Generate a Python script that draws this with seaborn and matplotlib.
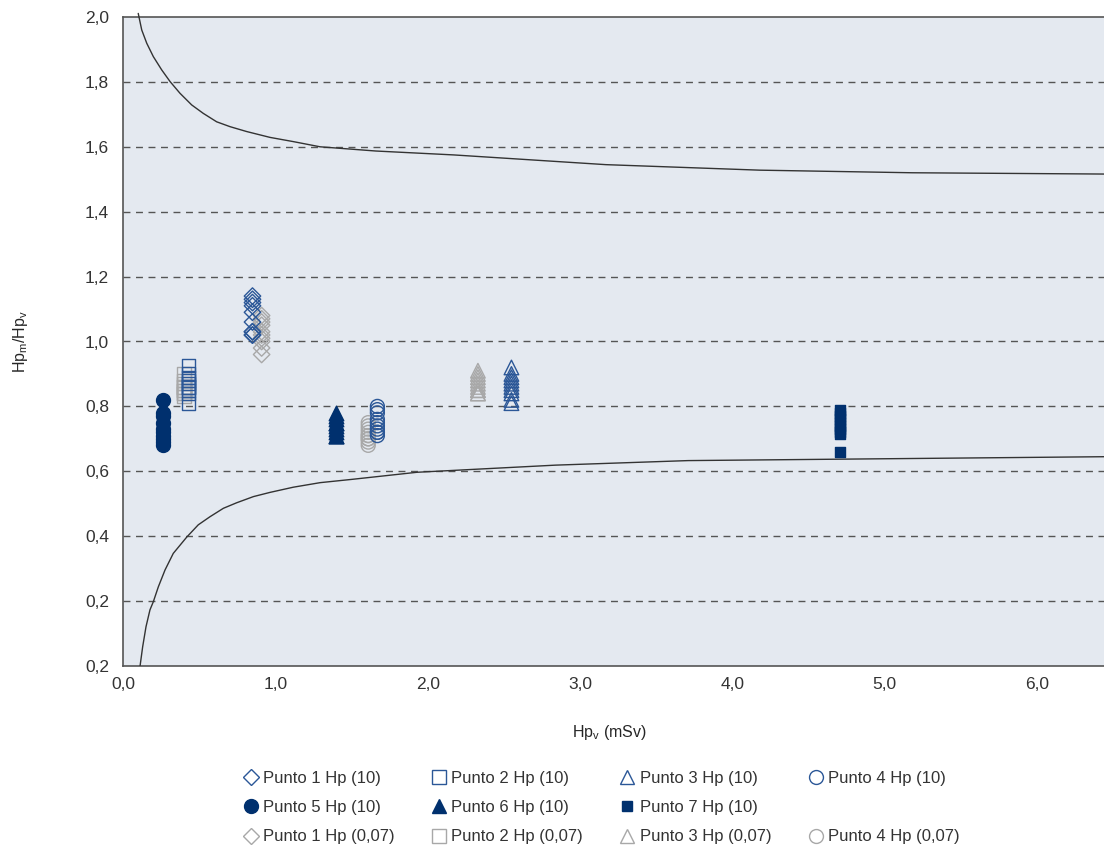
import numpy as np
import pandas as pd
import matplotlib
matplotlib.use("Agg")
import matplotlib.pyplot as plt
from matplotlib.lines import Line2D
import seaborn as sns

# DATA

labels = [
    "Punto 1 Hp (10)", "Punto 2 Hp (10)", "Punto 3 Hp (10)", "Punto 4 Hp (10)",
    "Punto 5 Hp (10)", "Punto 6 Hp (10)", "Punto 7 Hp (10)",
    "Punto 1 Hp (0,07)", "Punto 2 Hp (0,07)", "Punto 3 Hp (0,07)", "Punto 4 Hp (0,07)",
]

# Hp_v position of each series (mSv)
series_x = [0.85, 0.43, 2.55, 1.67, 0.26, 1.40, 4.71, 0.91, 0.40, 2.33, 1.61]

# Hp_m / Hp_v ratios
p1_10 = [1.14, 1.13, 1.12, 1.11, 1.09, 1.06, 1.03, 1.02, 1.02, 1.03]
p2_10 = [0.925, 0.90, 0.89, 0.88, 0.87, 0.86, 0.86, 0.85, 0.84, 0.81]
p3_10 = [0.92, 0.90, 0.89, 0.88, 0.87, 0.86, 0.85, 0.84, 0.82, 0.81]
p4_10 = [0.80, 0.79, 0.78, 0.76, 0.75, 0.74, 0.73, 0.72, 0.72, 0.71]
p5_10 = [0.82, 0.78, 0.77, 0.75, 0.73, 0.72, 0.71, 0.70, 0.69, 0.68]
p6_10 = [0.78, 0.77, 0.76, 0.75, 0.75, 0.74, 0.73, 0.72, 0.71, 0.71]
p7_10 = [0.79, 0.78, 0.77, 0.76, 0.75, 0.74, 0.73, 0.72, 0.715, 0.66]
p1_007 = [1.08, 1.07, 1.06, 1.05, 1.03, 1.02, 1.01, 1.00, 0.98, 0.96]
p2_007 = [0.90, 0.88, 0.87, 0.86, 0.86, 0.85, 0.85, 0.84, 0.84, 0.83]
p3_007 = [0.91, 0.90, 0.89, 0.88, 0.87, 0.86, 0.85, 0.85, 0.84, 0.84]
p4_007 = [0.75, 0.74, 0.73, 0.72, 0.71, 0.71, 0.70, 0.70, 0.69, 0.68]

series_y = [p1_10, p2_10, p3_10, p4_10, p5_10, p6_10, p7_10,
            p1_007, p2_007, p3_007, p4_007]

# trumpet curve limits
upper_x = [0.100, 0.123, 0.156, 0.199, 0.254, 0.309, 0.374, 0.451, 0.527, 0.615,
           0.703, 0.812, 0.965, 1.118, 1.294, 1.66, 2.17, 3.17, 4.18, 5.18, 6.45]
upper_y = [2.011, 1.960, 1.919, 1.878, 1.837, 1.801, 1.765, 1.729, 1.703, 1.677,
           1.662, 1.647, 1.629, 1.616, 1.600, 1.587, 1.575, 1.545, 1.528, 1.520, 1.516]
lower_x = [0.112, 0.129, 0.151, 0.177, 0.199, 0.232, 0.276, 0.330, 0.418, 0.494,
           0.571, 0.659, 0.746, 0.856, 0.965, 1.118, 1.294, 1.50, 1.93, 2.84, 3.71,
           4.85, 6.45]
lower_y = [0.0, 0.059, 0.121, 0.173, 0.198, 0.244, 0.296, 0.347, 0.397, 0.435,
           0.460, 0.486, 0.503, 0.522, 0.535, 0.551, 0.565, 0.575, 0.597, 0.619, 0.633,
           0.638, 0.645]

xticks = [0, 1, 2, 3, 4, 5, 6]
xtick_labels = ["0,0", "1,0", "2,0", "3,0", "4,0", "5,0", "6,0"]
yticks = [0.0, 0.2, 0.4, 0.6, 0.8, 1.0, 1.2, 1.4, 1.6, 1.8, 2.0]
ytick_labels = ["0,2", "0,2", "0,4", "0,6", "0,8", "1,0", "1,2", "1,4", "1,6", "1,8", "2,0"]

# STYLE

navy = "#00306e"
blue = "#2b5797"
grey = "#a8a8a8"
bg = "#e4e9f0"

marker_style = {
    "Punto 1 Hp (10)": ("D", "none", blue, 70),
    "Punto 2 Hp (10)": ("s", "none", blue, 90),
    "Punto 3 Hp (10)": ("^", "none", blue, 110),
    "Punto 4 Hp (10)": ("o", "none", blue, 100),
    "Punto 5 Hp (10)": ("o", navy, navy, 100),
    "Punto 6 Hp (10)": ("^", navy, navy, 110),
    "Punto 7 Hp (10)": ("s", navy, navy, 55),
    "Punto 1 Hp (0,07)": ("D", "none", grey, 70),
    "Punto 2 Hp (0,07)": ("s", "none", grey, 90),
    "Punto 3 Hp (0,07)": ("^", "none", grey, 110),
    "Punto 4 Hp (0,07)": ("o", "none", grey, 100),
}

sns.set_style("white")
plt.rcParams["font.family"] = ["Liberation Sans", "DejaVu Sans"]
plt.rcParams["font.size"] = 12
plt.rcParams["text.color"] = "#333333"

rows = []
for lab, xv, ys in zip(labels, series_x, series_y):
    for yv in ys:
        rows.append({"serie": lab, "x": xv, "y": yv})
df = pd.DataFrame(rows)

fig = plt.figure(figsize=(11.04, 8.46), dpi=100)
ax = fig.add_axes([123 / 1104, 1 - 666 / 846, 981 / 1104, 649 / 846])
ax.set_facecolor(bg)

# dashed grid
for yv in yticks[1:-1]:
    ax.axhline(yv, color="#555555", lw=1, ls=(0, (5, 4)), zorder=1)

# curves
sns.lineplot(x=upper_x, y=upper_y, ax=ax, color="#333333", lw=1,
             sort=False, estimator=None, clip_on=False, zorder=3)
sns.lineplot(x=lower_x, y=lower_y, ax=ax, color="#333333", lw=1,
             sort=False, estimator=None, zorder=3)

# points: grey first, then blue
draw_order = labels[7:] + labels[:7]
for lab in draw_order:
    m, fc, ec, s = marker_style[lab]
    sub = df[df["serie"] == lab]
    sns.scatterplot(data=sub, x="x", y="y", ax=ax, marker=m, s=s,
                    facecolor=fc, edgecolor=ec, linewidth=1, zorder=4)

ax.set_xlim(0, 6.44)
ax.set_ylim(0, 2.0)
ax.set_xticks(xticks)
ax.set_xticklabels(xtick_labels)
ax.set_yticks(yticks)
ax.set_yticklabels(ytick_labels)
ax.tick_params(axis="both", direction="out", length=5, width=1, color="#666666",
               labelsize=12.5, labelcolor="#333333")
ax.tick_params(axis="x", pad=3)
ax.tick_params(axis="y", pad=5)

for side in ["left", "bottom", "top"]:
    ax.spines[side].set_color("#555555")
    ax.spines[side].set_linewidth(1.2)
ax.spines["right"].set_visible(False)

ax.set_xlabel(r"Hp$_\mathregular{v}$ (mSv)", fontsize=11.5)
ax.set_ylabel(r"Hp$_\mathregular{m}$/Hp$_\mathregular{v}$", fontsize=11.5)
ax.xaxis.set_label_coords(0.496, -0.088)
ax.yaxis.set_label_coords(-0.095, 0.5)

# LEGEND

def handle(lab):
    m, fc, ec, s = marker_style[lab]
    ms = 10 if m != "D" else 8.5
    if lab == "Punto 7 Hp (10)":
        ms = 7.5
    return Line2D([], [], ls="none", marker=m, markersize=ms,
                  markerfacecolor=fc, markeredgecolor=ec, markeredgewidth=1)

blank = Line2D([], [], ls="none", marker=None)
order = [0, 4, 7, 1, 5, 8, 2, 6, 9, 3, None, 10]
handles = [handle(labels[i]) if i is not None else blank for i in order]
leg_labels = [labels[i] if i is not None else "" for i in order]

fig.legend(handles, leg_labels, ncol=4, loc="upper left",
           bbox_to_anchor=(244 / 1104, 1 - 771 / 846), frameon=False,
           fontsize=12, handlelength=0.8, handletextpad=0.35,
           columnspacing=2.25, labelspacing=0.85, borderaxespad=0, borderpad=0)

fig.savefig("out.png", dpi=100)
